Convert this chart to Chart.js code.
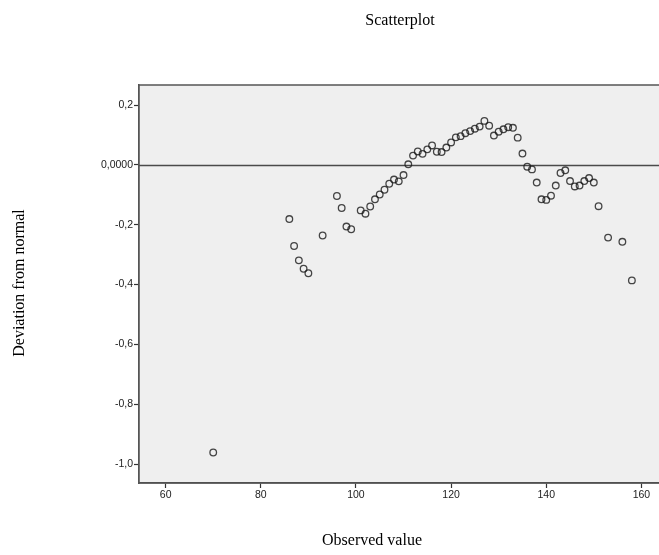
<!DOCTYPE html>
<html>
<head>
<meta charset="utf-8">
<script src="https://cdn.jsdelivr.net/npm/chart.js@4/dist/chart.umd.min.js"></script>
<style>
html,body{margin:0;padding:0;background:#fff;}
#wrap{width:659px;height:555px;position:relative;}
</style>
</head>
<body>
<div id="wrap"><canvas id="c" width="659" height="555"></canvas></div>
<script>
const chartTitle = "Scatterplot";
const xAxisTitle = "Observed value";
const yAxisTitle = "Deviation from normal";

const observedValues = [70, 86, 87, 88, 89, 90, 93, 96, 97, 98, 99, 101, 102, 103, 104, 105, 106, 107, 108, 109, 110, 111, 112, 113, 114, 115, 116, 117, 118, 119, 120, 121, 122, 123, 124, 125, 126, 127, 128, 129, 130, 131, 132, 133, 134, 135, 136, 137, 138, 139, 140, 141, 142, 143, 144, 145, 146, 147, 148, 149, 150, 151, 153, 156, 158];
const deviations = [-0.961, -0.181, -0.271, -0.319, -0.347, -0.362, -0.236, -0.104, -0.144, -0.206, -0.215, -0.152, -0.163, -0.139, -0.115, -0.099, -0.083, -0.063, -0.049, -0.055, -0.034, 0.002, 0.031, 0.045, 0.037, 0.052, 0.065, 0.044, 0.043, 0.058, 0.075, 0.092, 0.096, 0.106, 0.113, 0.121, 0.128, 0.147, 0.131, 0.098, 0.111, 0.119, 0.126, 0.124, 0.091, 0.038, -0.006, -0.015, -0.059, -0.115, -0.117, -0.103, -0.069, -0.027, -0.018, -0.054, -0.072, -0.069, -0.054, -0.044, -0.059, -0.138, -0.243, -0.257, -0.386];

const xTickValues = [60, 80, 100, 120, 140, 160];
const xTickLabels = ["60", "80", "100", "120", "140", "160"];
const yTickValues = [0.2, 0, -0.2, -0.4, -0.6, -0.8, -1.0];
const yTickLabels = ["0,2", "0,0000", "-0,2", "-0,4", "-0,6", "-0,8", "-1,0"];
const referenceValue = 0;

const points = observedValues.map((x, i) => ({x: x, y: deviations[i]}));

const framePlugin = {
  id: 'frame',
  beforeDraw(chart) {
    const ctx = chart.ctx, a = chart.chartArea;
    ctx.save();
    ctx.fillStyle = '#ffffff';
    ctx.fillRect(0, 0, chart.width, chart.height);
    ctx.fillStyle = '#efefef';
    ctx.fillRect(a.left, a.top, a.right - a.left, a.bottom - a.top);
    ctx.restore();
  },
  beforeDatasetsDraw(chart) {
    const ctx = chart.ctx, a = chart.chartArea;
    const y0 = Math.round(chart.scales.y.getPixelForValue(referenceValue)) + 0.5;
    ctx.save();
    ctx.strokeStyle = '#4a4a4a';
    ctx.lineWidth = 1.6;
    ctx.beginPath();
    ctx.moveTo(a.left, y0);
    ctx.lineTo(a.right, y0);
    ctx.stroke();
    ctx.restore();
  },
  afterDraw(chart) {
    const ctx = chart.ctx, a = chart.chartArea;
    ctx.save();
    ctx.strokeStyle = '#555555';
    ctx.lineWidth = 1.5;
    ctx.strokeRect(a.left - 0.25, a.top, a.right - a.left + 4, a.bottom - a.top);
    ctx.fillStyle = '#000000';
    ctx.font = '16px "Liberation Serif", "Times New Roman", serif';
    ctx.textAlign = 'center';
    ctx.textBaseline = 'middle';
    ctx.fillText(chartTitle, 400, 21);
    ctx.fillText(xAxisTitle, 372, 541);
    ctx.translate(20, 283);
    ctx.rotate(-Math.PI / 2);
    ctx.fillText(yAxisTitle, 0, 0);
    ctx.restore();
  }
};

new Chart(document.getElementById('c'), {
  type: 'scatter',
  data: {
    datasets: [{
      data: points,
      pointStyle: 'circle',
      pointRadius: 3.3,
      pointHoverRadius: 3.3,
      pointBorderWidth: 1.3,
      borderColor: 'rgba(25,25,25,0.8)',
      backgroundColor: 'rgba(0,0,0,0)'
    }]
  },
  options: {
    responsive: false,
    animation: false,
    events: [],
    layout: {autoPadding: false, padding: {top: 85, right: 0, left: 0, bottom: 0}},
    plugins: {legend: {display: false}, title: {display: false}, tooltip: {enabled: false}},
    scales: {
      x: {
        type: 'linear',
        min: 54.4,
        max: 163.7,
        afterBuildTicks(scale) { scale.ticks = xTickValues.map(v => ({value: v})); },
        afterFit(scale) { scale.height = 72; scale.paddingLeft = 0; scale.paddingRight = 0; },
        grid: {drawOnChartArea: false, drawTicks: true, tickLength: 5, tickWidth: 1.2, tickColor: '#333'},
        border: {display: true, color: '#444', width: 1.5},
        ticks: {
          autoSkip: false,
          maxRotation: 0,
          padding: 1,
          color: '#222',
          font: {family: '"Liberation Sans", Arial, sans-serif', size: 10.5},
          callback(v, i) { return xTickLabels[i]; }
        }
      },
      y: {
        type: 'linear',
        min: -1.063,
        max: 0.267,
        afterBuildTicks(scale) { scale.ticks = yTickValues.map(v => ({value: v})); },
        afterFit(scale) { scale.width = 139; scale.paddingTop = 0; scale.paddingBottom = 0; },
        grid: {drawOnChartArea: false, drawTicks: true, tickLength: 5, tickWidth: 1.2, tickColor: '#333'},
        border: {display: true, color: '#444', width: 1.5},
        ticks: {
          autoSkip: false,
          padding: 1,
          color: '#222',
          font: {family: '"Liberation Sans", Arial, sans-serif', size: 10.5},
          callback(v, i) { return yTickLabels[i]; }
        }
      }
    }
  },
  plugins: [framePlugin]
});
</script>
</body>
</html>
